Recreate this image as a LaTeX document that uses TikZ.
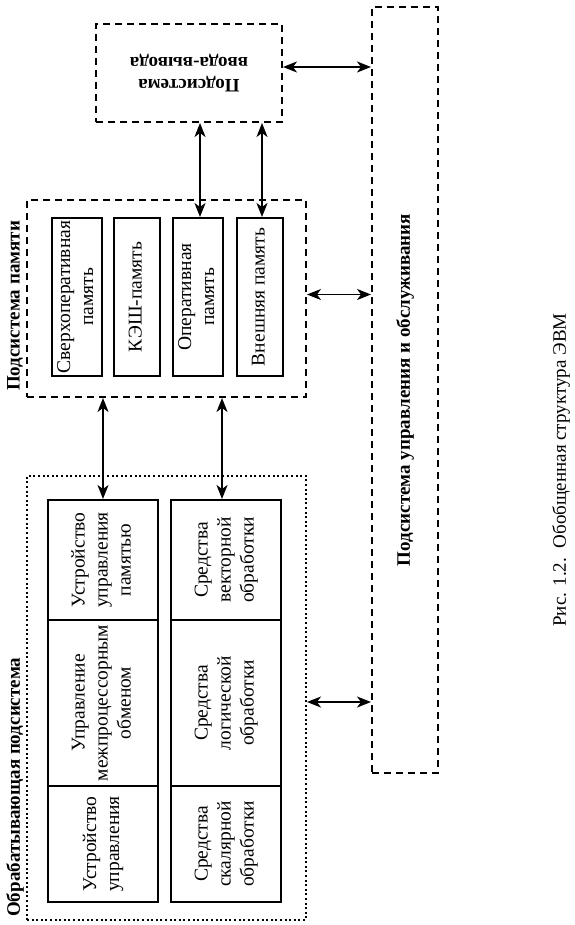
\documentclass[tikz,border=0pt]{standalone}
\usepackage{fontspec}
\usepackage{graphicx}
\setmainfont{Liberation Serif}
\usetikzlibrary{arrows.meta,calc}
\newcommand\rtxt[2][90]{\rotatebox{#1}{\begin{tabular}{@{}c@{}}#2\end{tabular}}}
\tikzset{
  cell/.style={draw, line width=2pt, inner sep=0pt, font=\fontsize{19.5}{23}\selectfont},
  dashbox/.style={draw, line width=2pt, dash pattern=on 7pt off 5pt, inner sep=0pt},
  dotbox/.style={draw, line width=2pt, dash pattern=on 2pt off 2.6pt, inner sep=0pt},
  boldlab/.style={font=\fontsize{19}{22.5}\selectfont\bfseries, inner sep=0pt},
  link/.style={line width=1.6pt, {Stealth[length=14pt,width=11pt,inset=4pt]}-{Stealth[length=14pt,width=11pt,inset=4pt]}}
}
\begin{document}
\begin{tikzpicture}[x=1pt,y=-1pt]
\useasboundingbox (0,0) rectangle (574,925);
% I/O subsystem
\node[dashbox, boldlab, minimum width=186pt, minimum height=98pt] (io) at (189,73)
  {\rtxt[180]{Подсистема\\ввода-вывода}};
% control subsystem
\node[dashbox, boldlab, minimum width=66pt, minimum height=766pt] (ctrl) at (405,390)
  {\rotatebox{90}{Подсистема управления и обслуживания}};
% memory subsystem
\node[dashbox, minimum width=279pt, minimum height=197pt] (mem) at (166.5,298.5) {};
\node[boldlab, rotate=90, anchor=west] (memlab) at (15,391) {Подсистема памяти};
\node[cell, minimum width=50pt, minimum height=158pt] (m1) at (77,297) {\rtxt{Сверхоперативная\\память}};
\node[cell, minimum width=46pt, minimum height=158pt] (m2) at (137,297) {\rtxt{КЭШ-память}};
\node[cell, minimum width=50pt, minimum height=158pt] (m3) at (198,297) {\rtxt{Оперативная\\память}};
\node[cell, minimum width=46pt, minimum height=158pt] (m4) at (260,297) {\rtxt{Внешняя память}};
% processing subsystem
\node[dotbox, minimum width=279pt, minimum height=444pt] (proc) at (166.5,698) {};
\node[boldlab, rotate=90, anchor=west] (proclab) at (15,917) {Обрабатывающая подсистема};
\node[cell, minimum width=110pt, minimum height=120pt] (p1) at (103,560) {\rtxt{Устройство\\управления\\памятью}};
\node[cell, minimum width=110pt, minimum height=166pt] (p2) at (103,703) {\rtxt{Управление\\межпроцессорным\\обменом}};
\node[cell, minimum width=110pt, minimum height=116pt] (p3) at (103,844) {\rtxt{Устройство\\управления}};
\node[cell, minimum width=110pt, minimum height=120pt] (q1) at (226,560) {\rtxt{Средства\\векторной\\обработки}};
\node[cell, minimum width=110pt, minimum height=166pt] (q2) at (226,703) {\rtxt{Средства\\логической\\обработки}};
\node[cell, minimum width=110pt, minimum height=116pt] (q3) at (226,844) {\rtxt{Средства\\скалярной\\обработки}};
% caption
\node[font=\fontsize{19}{22.5}\selectfont, rotate=90, inner sep=0pt] (cap) at (561,470) {Рис. 1.2.\ \ Обобщенная структура ЭВМ};
% connectors
\draw[link] ([yshift=6pt]io.east) -- ([yshift=6pt]io.east -| ctrl.west);
\draw[link] ([xshift=2pt]io.south -| m3) -- ([xshift=2pt]m3.north);
\draw[link] ([xshift=2pt]io.south -| m4) -- ([xshift=2pt]m4.north);
\draw[link] ([yshift=4pt]mem.east) -- ([yshift=4pt]mem.east -| ctrl.west);
\draw[link] (mem.south -| p1) -- (p1.north);
\draw[link] ([xshift=-4pt]mem.south -| q1) -- ([xshift=-4pt]q1.north);
\draw[link] ([yshift=-4pt]proc.east) -- ([yshift=-4pt]proc.east -| ctrl.west);
\end{tikzpicture}
\end{document}
